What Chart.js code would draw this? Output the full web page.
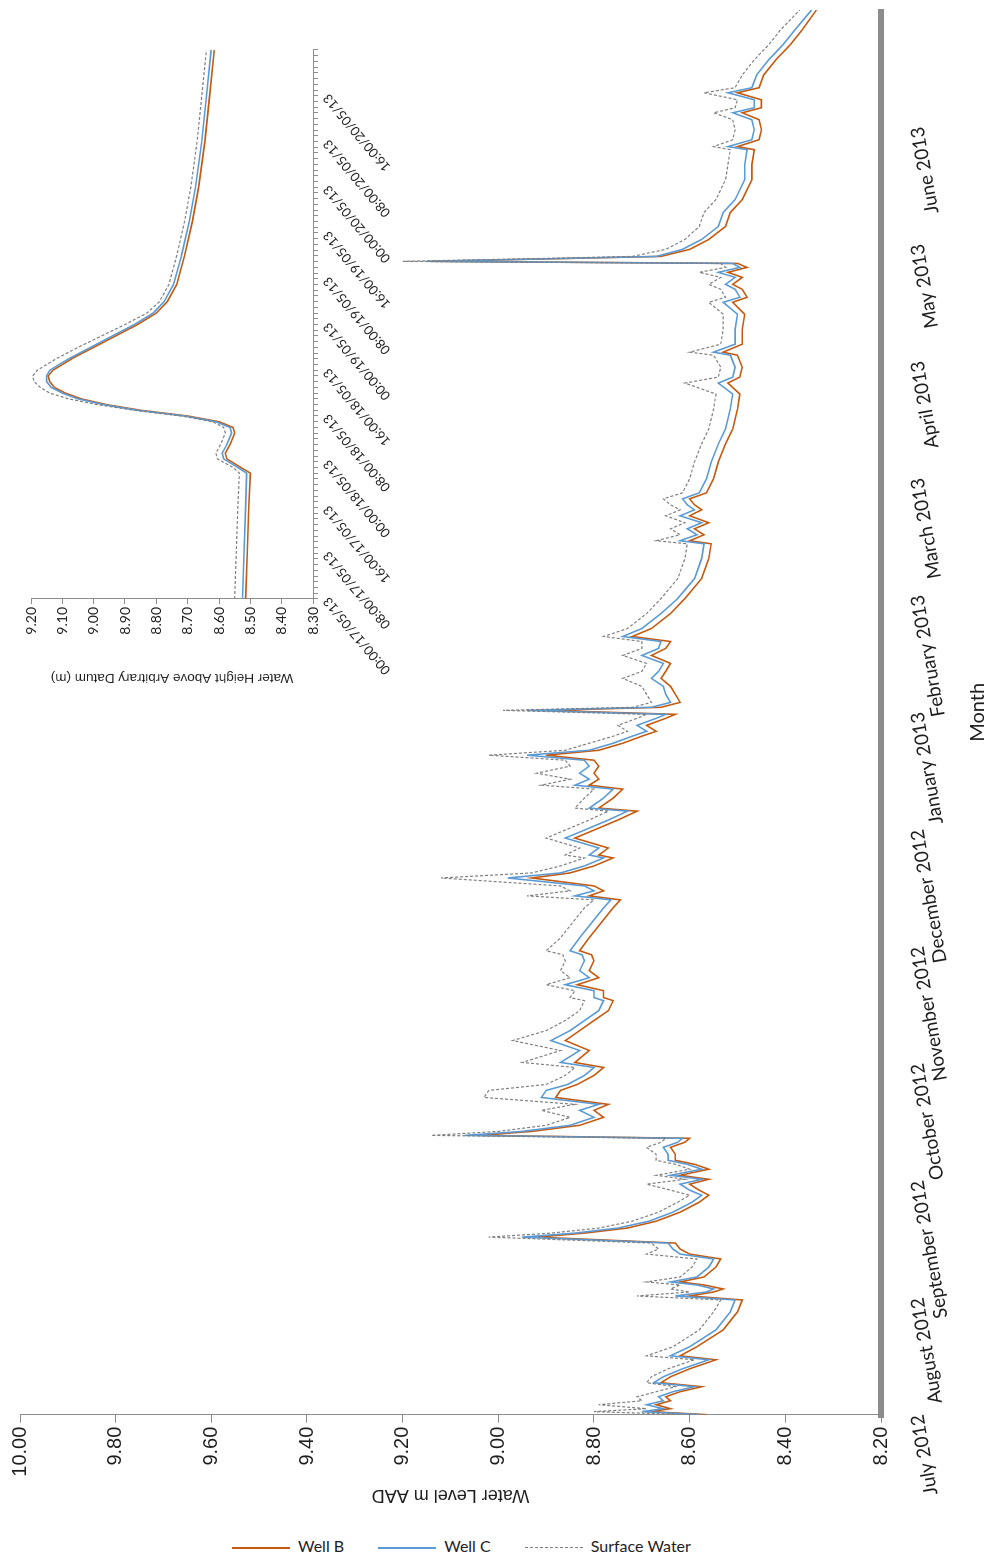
<!DOCTYPE html>
<html>
<head>
<meta charset="utf-8">
<title>Well and surface water levels</title>
<script src="https://cdn.jsdelivr.net/npm/chart.js@4.4.1/dist/chart.umd.min.js"></script>
<style>
  html, body { margin: 0; padding: 0; background: #fff; }
  body { width: 992px; height: 1558px; position: relative; overflow: hidden; }
  /* the whole figure is laid out sideways and turned a quarter turn */
  #frame {
    position: absolute; left: 0; top: 0; width: 1520px; height: 992px;
    transform-origin: 0 0; transform: translateY(1520px) rotate(-90deg);
  }
  #mainChart { position: absolute; left: 0; top: 0; }
  #insetChart { position: absolute; left: 830px; top: 15px; }
  #legend {
    position: absolute; left: 232px; top: 1535px; white-space: nowrap;
    font: 16px Lato, sans-serif; color: #222; line-height: 22px;
  }
  .key { display: inline-block; margin-right: 30px; }
  .key i { display: inline-block; width: 58px; height: 0; vertical-align: middle; margin-right: 8px; }
</style>
</head>
<body>
<div id="frame">
  <canvas id="mainChart" width="1520" height="992"></canvas>
  <canvas id="insetChart" width="660" height="400"></canvas>
</div>
<div id="legend">
  <span class="key"><i style="border-top: 2px solid #c55a11"></i>Well B</span>
  <span class="key"><i style="border-top: 2px solid #5b9bd5"></i>Well C</span>
  <span class="key"><i style="border-top: 1px dashed #7f7f7f"></i>Surface Water</span>
</div>
<script>
const monthLabels = ['July 2012', 'August 2012', 'September 2012', 'October 2012', 'November 2012',
  'December 2012', 'January 2013', 'February 2013', 'March 2013', 'April 2013', 'May 2013', 'June 2013'];
const levelTicks = [8.2, 8.4, 8.6, 8.8, 9.0, 9.2, 9.4, 9.6, 9.8, 10.0];

// months elapsed since the start of July 2012
const elapsedMonths = [
  0.000, 0.026, 0.051, 0.085, 0.119, 0.153, 0.196, 0.239, 0.273, 0.324,
  0.392, 0.469, 0.503, 0.580, 0.724, 0.878, 0.980, 1.014, 1.048, 1.074,
  1.108, 1.134, 1.176, 1.261, 1.330, 1.372, 1.415, 1.466, 1.517, 1.551,
  1.594, 1.653, 1.730, 1.815, 1.875, 1.918, 1.969, 2.011, 2.045, 2.097,
  2.139, 2.173, 2.224, 2.284, 2.327, 2.361, 2.386, 2.420, 2.472, 2.540,
  2.600, 2.651, 2.710, 2.770, 2.821, 2.898, 2.966, 3.009, 3.111, 3.196,
  3.281, 3.367, 3.452, 3.537, 3.563, 3.622, 3.673, 3.733, 3.793, 3.878,
  3.929, 3.963, 4.074, 4.202, 4.330, 4.398, 4.432, 4.475, 4.517, 4.585,
  4.628, 4.688, 4.756, 4.781, 4.841, 4.926, 4.994, 5.080, 5.156, 5.182,
  5.267, 5.344, 5.378, 5.429, 5.480, 5.540, 5.591, 5.634, 5.676, 5.736,
  5.796, 5.838, 5.889, 5.949, 5.983, 6.017, 6.043, 6.085, 6.154, 6.222,
  6.290, 6.350, 6.418, 6.486, 6.546, 6.605, 6.648, 6.716, 6.844, 6.972,
  7.142, 7.313, 7.440, 7.466, 7.517, 7.568, 7.620, 7.679, 7.730, 7.773,
  7.824, 7.875, 7.995, 8.139, 8.293, 8.421, 8.591, 8.719, 8.813, 8.864,
  8.949, 9.051, 9.077, 9.145, 9.273, 9.401, 9.503, 9.546, 9.614, 9.656,
  9.716, 9.759, 9.801, 9.835, 9.853, 9.878, 9.895, 9.955, 10.040, 10.151,
  10.270, 10.381, 10.551, 10.679, 10.807, 10.833, 10.892, 10.977, 11.063, 11.122,
  11.165, 11.233, 11.293, 11.336, 11.446, 11.574, 11.702, 11.830, 12.000
];
const wellB = [
  8.565, 8.68, 8.64, 8.67, 8.64, 8.65, 8.62, 8.575, 8.66, 8.64,
  8.60, 8.545, 8.62, 8.585, 8.53, 8.50, 8.49, 8.60, 8.55, 8.53,
  8.57, 8.62, 8.57, 8.545, 8.535, 8.60, 8.62, 8.63, 8.92, 8.82,
  8.73, 8.67, 8.62, 8.58, 8.56, 8.58, 8.60, 8.56, 8.62, 8.56,
  8.59, 8.63, 8.63, 8.64, 8.61, 8.60, 9.04, 8.93, 8.83, 8.78,
  8.80, 8.77, 8.88, 8.87, 8.835, 8.80, 8.78, 8.84, 8.81, 8.86,
  8.83, 8.80, 8.77, 8.76, 8.78, 8.78, 8.835, 8.79, 8.81, 8.80,
  8.805, 8.83, 8.81, 8.785, 8.76, 8.745, 8.81, 8.78, 8.80, 8.93,
  8.85, 8.80, 8.76, 8.79, 8.77, 8.84, 8.80, 8.75, 8.71, 8.79,
  8.76, 8.74, 8.81, 8.79, 8.80, 8.79, 8.80, 8.90, 8.79, 8.74,
  8.70, 8.67, 8.69, 8.65, 8.63, 8.90, 8.66, 8.62, 8.63, 8.64,
  8.66, 8.65, 8.64, 8.68, 8.65, 8.64, 8.72, 8.68, 8.64, 8.61,
  8.575, 8.56, 8.555, 8.60, 8.57, 8.59, 8.56, 8.60, 8.575, 8.59,
  8.60, 8.565, 8.55, 8.54, 8.525, 8.51, 8.50, 8.495, 8.52, 8.495,
  8.49, 8.50, 8.53, 8.49, 8.49, 8.485, 8.51, 8.48, 8.49, 8.51,
  8.49, 8.52, 8.48, 8.50, 9.14, 8.85, 8.66, 8.60, 8.56, 8.525,
  8.515, 8.49, 8.47, 8.47, 8.465, 8.50, 8.455, 8.45, 8.455, 8.49,
  8.45, 8.45, 8.50, 8.455, 8.445, 8.42, 8.39, 8.365, 8.335
];
const wellC = [
  8.575, 8.70, 8.655, 8.69, 8.655, 8.665, 8.635, 8.59, 8.675, 8.655,
  8.615, 8.56, 8.64, 8.60, 8.545, 8.515, 8.505, 8.63, 8.565, 8.55,
  8.585, 8.64, 8.585, 8.56, 8.55, 8.62, 8.635, 8.645, 8.95, 8.84,
  8.75, 8.685, 8.635, 8.595, 8.575, 8.60, 8.62, 8.575, 8.64, 8.575,
  8.605, 8.645, 8.645, 8.655, 8.625, 8.615, 9.07, 8.95, 8.85, 8.80,
  8.83, 8.79, 8.91, 8.90, 8.855, 8.82, 8.80, 8.87, 8.83, 8.89,
  8.85, 8.82, 8.79, 8.78, 8.80, 8.80, 8.86, 8.81, 8.83, 8.82,
  8.825, 8.85, 8.83, 8.805, 8.78, 8.765, 8.84, 8.80, 8.82, 8.98,
  8.87, 8.82, 8.78, 8.81, 8.79, 8.86, 8.82, 8.77, 8.73, 8.81,
  8.78, 8.76, 8.84, 8.81, 8.83, 8.81, 8.82, 8.94, 8.81, 8.76,
  8.72, 8.69, 8.71, 8.67, 8.65, 8.94, 8.68, 8.64, 8.65, 8.655,
  8.68, 8.665, 8.655, 8.70, 8.665, 8.66, 8.74, 8.70, 8.66, 8.625,
  8.59, 8.575, 8.57, 8.62, 8.585, 8.605, 8.575, 8.62, 8.59, 8.605,
  8.615, 8.58, 8.565, 8.555, 8.54, 8.525, 8.515, 8.51, 8.54, 8.51,
  8.505, 8.515, 8.55, 8.505, 8.505, 8.50, 8.53, 8.495, 8.505, 8.525,
  8.505, 8.54, 8.495, 8.51, 9.15, 8.86, 8.67, 8.615, 8.575, 8.54,
  8.53, 8.505, 8.485, 8.485, 8.48, 8.52, 8.47, 8.465, 8.47, 8.51,
  8.465, 8.465, 8.52, 8.47, 8.46, 8.435, 8.405, 8.38, 8.345
];
const surfaceWater = [
  8.60, 8.80, 8.69, 8.79, 8.70, 8.71, 8.67, 8.63, 8.69, 8.68,
  8.645, 8.59, 8.69, 8.635, 8.58, 8.55, 8.535, 8.71, 8.60, 8.64,
  8.62, 8.69, 8.62, 8.595, 8.585, 8.69, 8.665, 8.68, 9.02, 8.89,
  8.79, 8.72, 8.665, 8.625, 8.60, 8.64, 8.69, 8.61, 8.67, 8.60,
  8.63, 8.67, 8.67, 8.69, 8.66, 8.65, 9.14, 9.00, 8.90, 8.85,
  8.91, 8.84, 9.03, 9.02, 8.90, 8.86, 8.84, 8.95, 8.87, 8.97,
  8.90, 8.86, 8.83, 8.82, 8.85, 8.84, 8.90, 8.85, 8.87, 8.86,
  8.865, 8.90, 8.87, 8.845, 8.82, 8.80, 8.94, 8.85, 8.87, 9.12,
  8.93, 8.87, 8.82, 8.86, 8.83, 8.90, 8.86, 8.81, 8.77, 8.84,
  8.82, 8.80, 8.91, 8.85, 8.92, 8.85, 8.86, 9.02, 8.86, 8.81,
  8.76, 8.73, 8.75, 8.71, 8.69, 8.99, 8.72, 8.68, 8.69, 8.70,
  8.74, 8.70, 8.69, 8.74, 8.70, 8.70, 8.78, 8.73, 8.69, 8.66,
  8.625, 8.61, 8.605, 8.67, 8.62, 8.64, 8.61, 8.65, 8.62, 8.64,
  8.655, 8.615, 8.60, 8.59, 8.575, 8.56, 8.55, 8.545, 8.61, 8.54,
  8.535, 8.55, 8.60, 8.535, 8.53, 8.53, 8.56, 8.525, 8.535, 8.56,
  8.535, 8.58, 8.525, 8.535, 9.20, 8.90, 8.72, 8.65, 8.61, 8.58,
  8.57, 8.545, 8.525, 8.52, 8.515, 8.55, 8.51, 8.505, 8.51, 8.55,
  8.505, 8.50, 8.57, 8.505, 8.49, 8.465, 8.435, 8.41, 8.37
];

// close-up of the 17-20 May 2013 event, hours from 00:00 on 17/05/13
const insetTickLabels = ['00:00/17/05/13', '08:00/17/05/13', '16:00/17/05/13', '00:00/18/05/13',
  '08:00/18/05/13', '16:00/18/05/13', '00:00/19/05/13', '08:00/19/05/13', '16:00/19/05/13',
  '00:00/20/05/13', '08:00/20/05/13', '16:00/20/05/13'];
const insetLevelTicks = [8.3, 8.4, 8.5, 8.6, 8.7, 8.8, 8.9, 9.0, 9.1, 9.2];
const insetHours = [0, 8, 16, 22, 23, 24.5, 25.5, 27, 29, 30, 31, 32, 33, 34, 35, 36, 37, 38, 39, 40,
  41, 42, 44, 46, 48, 50, 52, 55, 60, 66, 72, 80, 88, 96];
const insetWellB = [8.515, 8.51, 8.505, 8.50, 8.53, 8.575, 8.58, 8.565, 8.55, 8.555, 8.60, 8.70,
  8.85, 8.96, 9.04, 9.09, 9.125, 9.14, 9.145, 9.13, 9.10, 9.07, 9.00, 8.93, 8.86, 8.80, 8.765,
  8.735, 8.71, 8.685, 8.665, 8.645, 8.63, 8.615];
const insetWellC = [8.525, 8.52, 8.515, 8.512, 8.54, 8.585, 8.59, 8.575, 8.56, 8.565, 8.61, 8.71,
  8.86, 8.97, 9.05, 9.10, 9.135, 9.15, 9.15, 9.14, 9.11, 9.08, 9.01, 8.94, 8.87, 8.81, 8.775,
  8.745, 8.72, 8.695, 8.675, 8.655, 8.64, 8.625];
const insetSurface = [8.55, 8.545, 8.54, 8.535, 8.555, 8.605, 8.61, 8.595, 8.58, 8.585, 8.62, 8.72,
  8.87, 8.99, 9.08, 9.14, 9.17, 9.19, 9.195, 9.18, 9.15, 9.12, 9.05, 8.975, 8.90, 8.83, 8.79,
  8.76, 8.735, 8.71, 8.69, 8.67, 8.655, 8.64];

const axisGrey = '#8c8c8c';
const textColour = '#1e1e1e';

function series(label, xs, ys, colour, width, dash) {
  return {
    label,
    data: xs.map((x, i) => ({ x, y: ys[i] })),
    borderColor: colour,
    borderWidth: width,
    borderDash: dash || [],
    pointRadius: 0,
    tension: 0,
    fill: false
  };
}

Chart.defaults.font.family = 'Lato, sans-serif';

new Chart(document.getElementById('mainChart'), {
  type: 'line',
  data: {
    datasets: [
      series('Surface Water', elapsedMonths, surfaceWater, '#7f7f7f', 1.2, [3, 2]),
      series('Well C', elapsedMonths, wellC, '#5b9bd5', 1.6),
      series('Well B', elapsedMonths, wellB, '#c55a11', 1.6)
    ]
  },
  options: {
    responsive: false,
    animation: false,
    events: [],
    layout: { padding: { top: 20, right: 10, left: 0, bottom: 0 } },
    plugins: { legend: { display: false }, tooltip: { enabled: false } },
    scales: {
      x: {
        type: 'linear',
        min: 0,
        max: 12,
        afterBuildTicks: (scale) => {
          scale.ticks = monthLabels.map((_, i) => ({ value: i })).concat([{ value: 12 }]);
        },
        afterFit: (scale) => {
          scale.height = 111;
          scale.paddingRight = 0;
        },
        grid: { display: false, drawTicks: false },
        border: { display: true, color: axisGrey, width: 6 },
        ticks: {
          autoSkip: false,
          minRotation: 10,
          maxRotation: 10,
          padding: 25,
          color: textColour,
          font: { size: 19 },
          callback: (value) => monthLabels[value] || ''
        },
        title: {
          display: true,
          text: 'Month',
          color: textColour,
          font: { size: 20 },
          padding: { top: 0, bottom: 2 }
        }
      },
      y: {
        type: 'linear',
        min: 8.2,
        max: 10,
        afterBuildTicks: (scale) => {
          scale.ticks = levelTicks.map((v) => ({ value: v }));
        },
        afterFit: (scale) => { scale.width = 102; },
        grid: { drawOnChartArea: false, drawTicks: true, tickLength: 8, color: axisGrey },
        border: { color: axisGrey, width: 1 },
        ticks: {
          padding: 4,
          color: textColour,
          font: { family: 'Liberation Sans, sans-serif', size: 20 },
          callback: (value) => value.toFixed(2)
        },
        title: {
          display: true,
          text: 'Water Level m AAD',
          color: textColour,
          font: { family: 'Liberation Sans, sans-serif', size: 18 },
          padding: { top: 11, bottom: 0 }
        }
      }
    }
  }
});

new Chart(document.getElementById('insetChart'), {
  type: 'line',
  data: {
    datasets: [
      series('Surface Water', insetHours, insetSurface, '#7f7f7f', 1.2, [3, 2]),
      series('Well C', insetHours, insetWellC, '#5b9bd5', 1.6),
      series('Well B', insetHours, insetWellB, '#c55a11', 1.6)
    ]
  },
  options: {
    responsive: false,
    animation: false,
    events: [],
    layout: { padding: { top: 16, right: 20, left: 0, bottom: 0 } },
    plugins: { legend: { display: false }, tooltip: { enabled: false } },
    scales: {
      x: {
        type: 'linear',
        min: 0,
        max: 96,
        afterBuildTicks: (scale) => {
          const hourly = [];
          for (let h = 0; h <= 96; h += 1) hourly.push({ value: h });
          scale.ticks = hourly;
        },
        afterFit: (scale) => { scale.height = 102; },
        grid: { drawOnChartArea: false, drawTicks: true, tickLength: 5, color: axisGrey },
        border: { color: axisGrey, width: 1 },
        ticks: {
          autoSkip: false,
          minRotation: 40,
          maxRotation: 40,
          padding: 2,
          color: textColour,
          font: { size: 13 },
          callback: (value) => (value % 8 === 0 ? insetTickLabels[value / 8] || '' : '')
        }
      },
      y: {
        type: 'linear',
        min: 8.3,
        max: 9.2,
        afterBuildTicks: (scale) => {
          scale.ticks = insetLevelTicks.map((v) => ({ value: v }));
        },
        afterFit: (scale) => { scale.width = 91; },
        grid: { drawOnChartArea: false, drawTicks: true, tickLength: 5, color: axisGrey },
        border: { color: axisGrey, width: 1 },
        ticks: {
          padding: 3,
          color: textColour,
          font: { size: 14 },
          callback: (value) => value.toFixed(2)
        },
        title: {
          display: true,
          text: 'Water Height Above Arbitrary Datum (m)',
          color: textColour,
          font: { family: 'Liberation Sans, sans-serif', size: 13.5 },
          padding: { top: 4, bottom: 0 }
        }
      }
    }
  }
});
</script>
</body>
</html>
